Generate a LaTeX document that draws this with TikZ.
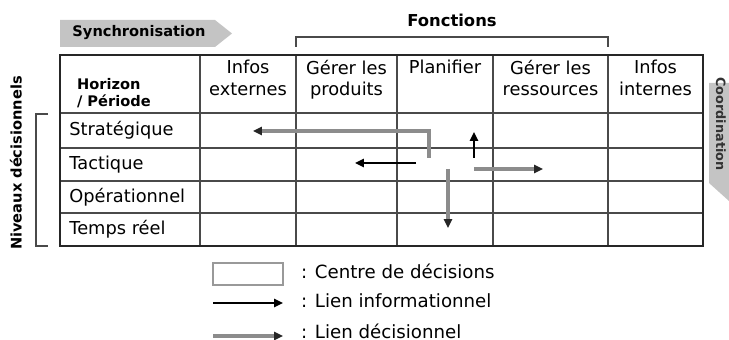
\documentclass[tikz,border=0pt]{standalone}
\usepackage{fontspec}
\setmainfont{DejaVu Sans}
\usetikzlibrary{arrows.meta,positioning}
\definecolor{bandcol}{HTML}{C4C4C4}
\definecolor{gridcol}{HTML}{4A4A4A}
\definecolor{deccol}{HTML}{8C8C8C}

\begin{document}
\begin{tikzpicture}[x=0.5pt,y=-0.5pt,font=\fontsize{8.9}{10.6}\selectfont,
  head/.style={font=\fontsize{7.3}{8.8}\selectfont\bfseries},
  gridline/.style={gridcol, line width=0.6pt},
  info/.style={-{Triangle[length=4.4pt,width=4pt]}, line width=1.2pt, black},
  decision/.style={-{Triangle[length=4.4pt,width=4pt,black!85]}, line width=1.6pt, deccol},
  legendbox/.style={draw=gray!80, line width=0.6pt, minimum width=35pt, minimum height=11pt, inner sep=0pt}]
\useasboundingbox (0,0) rectangle (729,340);
% banners
\fill[bandcol] (60,20) -- (215,20) -- (232,33.5) -- (215,47) -- (60,47) -- cycle;
\node[head] (sync) at (139,33) {Synchronisation};
\fill[bandcol] (709,83) -- (729,83) -- (729,201) -- (709,183) -- cycle;
\node[head, font=\fontsize{6.4}{7}\selectfont\bfseries, rotate=-90, text=black!80] (coord) at (721,124) {Coordination};
% functions bracket
\draw[gridline, line width=0.8pt] (296,47) |- (608,37) -- (608,47);
\node[head, font=\fontsize{8.2}{9}\selectfont\bfseries] (fonctions) at (452,20) {Fonctions};
% levels bracket
\draw[gridline, line width=0.8pt] (48,114) -| (36,246) -- (48,246);
\node[head, rotate=90] (niveaux) at (16,163) {Niveaux décisionnels};
% table grid
\foreach \x in {200,296,397,493,608}
  \draw[gridline] (\x,55) -- (\x,246);
\foreach \y in {113,148,181,213}
  \draw[gridline] (60,\y) -- (703,\y);
\draw[black!85, line width=1.2pt] (60,55) rectangle (703,246);
% column heads
\node[head, anchor=west, align=left] (horizon) at (70,93) {Horizon\\/ Période};
\foreach \x/\t/\n in {248/{Infos\\externes}/colext, 346.5/{Gérer les\\produits}/colprod,
                      445/{Planifier}/colplan, 550.5/{Gérer les\\ressources}/colres,
                      655.5/{Infos\\internes}/colint}
  \node[anchor=north, align=center, inner sep=0pt] (\n) at (\x,60) {\t};
% row heads
\foreach \y/\t/\n in {130.5/Stratégique/strat, 164.5/Tactique/tact,
                      197/Opérationnel/oper, 229.5/Temps réel/treel}
  \node[anchor=west, inner sep=0pt] (\n) at (69,\y) {\t};
% links from Planifier
\coordinate (planA) at (429,158);
\coordinate (stratA) at (253,131);
\draw[decision] (planA) |- (stratA);
\coordinate (planB) at (416,163);
\coordinate (prodB) at (355,163);
\draw[info] (planB) -- (prodB);
\coordinate (planC) at (474,158);
\coordinate (planD) at (474,132);
\draw[info] (planC) -- (planD);
\coordinate (planE) at (448,169);
\coordinate (planF) at (448,228);
\draw[decision] (planE) -- (planF);
\coordinate (planG) at (474,169);
\coordinate (resG) at (543,169);
\draw[decision] (planG) -- (resG);
% legend
\node[legendbox] (lgbox) at (248,274) {};
\node[anchor=west, font=\fontsize{9.1}{11}\selectfont] (lgcentre) at (294,271) {: Centre de décisions};
\coordinate (lgi1) at (213,303);
\coordinate (lgi2) at (283,303);
\draw[info] (lgi1) -- (lgi2);
\node[anchor=west, font=\fontsize{9.1}{11}\selectfont] (lginfo) at (294,301) {: Lien informationnel};
\coordinate (lgd1) at (213,336);
\coordinate (lgd2) at (283,336);
\draw[decision] (lgd1) -- (lgd2);
\node[anchor=west, font=\fontsize{9.1}{11}\selectfont] (lgdec) at (294,331) {: Lien décisionnel};
\end{tikzpicture}
\end{document}
